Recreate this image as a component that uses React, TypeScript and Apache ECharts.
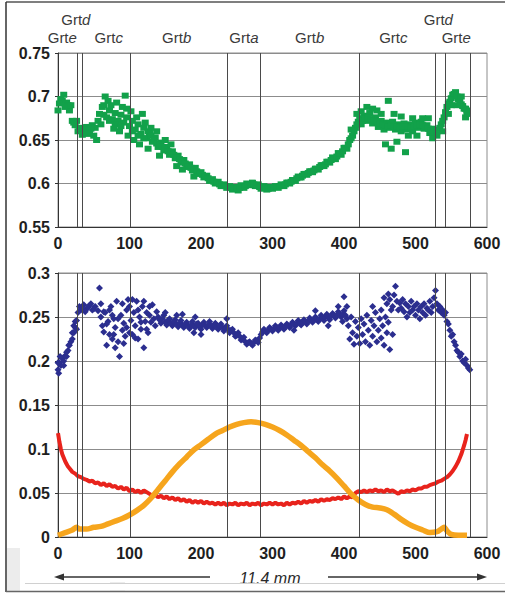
import React, { useEffect, useRef } from "react";
import * as echarts from "echarts";

// Zone boundaries (distance units on x axis)
const zoneBounds = [26.5, 34, 100.5, 237, 283, 421, 528, 541, 576];

// Zone labels: base text, italic suffix, x position (data), row
const zoneLabels: { base: string; it: string; x: number; row: number }[] = [
  { base: "Grt", it: "d", x: 25, row: 0 },
  { base: "Grt", it: "e", x: 6, row: 1 },
  { base: "Grt", it: "c", x: 71, row: 1 },
  { base: "Grt", it: "b", x: 166, row: 1 },
  { base: "Grt", it: "a", x: 260, row: 1 },
  { base: "Grt", it: "b", x: 352, row: 1 },
  { base: "Grt", it: "c", x: 469, row: 1 },
  { base: "Grt", it: "d", x: 532, row: 0 },
  { base: "Grt", it: "e", x: 557, row: 1 },
];

const xTicks = { min: 0, max: 600, step: 100 };
const topTicks = { min: 0.55, max: 0.75, step: 0.05 };
const bottomTicks = { min: 0, max: 0.3, step: 0.05 };

// Top panel (green squares)
const greenBand: [number, number][] = [
  [0, 0.684], [4, 0.697], [8, 0.702], [12, 0.693], [16, 0.684], [20, 0.672], [24, 0.667], [28, 0.66],
  [32, 0.664], [36, 0.659], [40, 0.665], [44, 0.661], [48, 0.667], [52, 0.664], [56, 0.672], [60, 0.668],
  [64, 0.679], [68, 0.676], [72, 0.684], [76, 0.674], [80, 0.681], [84, 0.672], [88, 0.679], [92, 0.67],
  [96, 0.676], [100, 0.666], [104, 0.672], [108, 0.662], [112, 0.668], [116, 0.657], [120, 0.664], [124, 0.652],
  [128, 0.658], [132, 0.648], [136, 0.653], [140, 0.642], [144, 0.647], [148, 0.638], [152, 0.642], [156, 0.633],
  [160, 0.637], [164, 0.629], [168, 0.632], [172, 0.624], [176, 0.627], [180, 0.619], [184, 0.622], [188, 0.615],
  [192, 0.618], [196, 0.611], [200, 0.613], [204, 0.607], [208, 0.609], [212, 0.603], [216, 0.605], [220, 0.6],
  [224, 0.602], [228, 0.597], [232, 0.599], [236, 0.595], [240, 0.597], [244, 0.593], [248, 0.596], [252, 0.592],
  [256, 0.598], [260, 0.595], [264, 0.6], [268, 0.598], [272, 0.601], [276, 0.597], [280, 0.599], [284, 0.594],
  [288, 0.597], [292, 0.593], [296, 0.596], [300, 0.594], [304, 0.597], [308, 0.595], [312, 0.599], [316, 0.597],
  [320, 0.601], [324, 0.6], [328, 0.604], [332, 0.603], [336, 0.608], [340, 0.607], [344, 0.611], [348, 0.61],
  [352, 0.614], [356, 0.613], [360, 0.617], [364, 0.616], [368, 0.621], [372, 0.62], [376, 0.625], [380, 0.624],
  [384, 0.63], [388, 0.628], [392, 0.635], [396, 0.633], [400, 0.641], [404, 0.64], [408, 0.65], [412, 0.655],
  [416, 0.664], [420, 0.671], [424, 0.668], [428, 0.678], [432, 0.672], [436, 0.681], [440, 0.669], [444, 0.676],
  [448, 0.665], [452, 0.672], [456, 0.662], [460, 0.67], [464, 0.664], [468, 0.671], [472, 0.662], [476, 0.668],
  [480, 0.66], [484, 0.669], [488, 0.662], [492, 0.668], [496, 0.66], [500, 0.67], [504, 0.664], [508, 0.671],
  [512, 0.663], [516, 0.667], [520, 0.658], [524, 0.663], [528, 0.657], [532, 0.662], [536, 0.668], [540, 0.676],
  [544, 0.688], [548, 0.694], [552, 0.702], [556, 0.705], [560, 0.697], [564, 0.691], [568, 0.686], [572, 0.684],
];
const greenBand2: [number, number][] = [
  [6, 0.695], [14, 0.69], [22, 0.67], [30, 0.662], [38, 0.662], [46, 0.663], [64, 0.69], [72, 0.672],
  [80, 0.668], [88, 0.666], [96, 0.686], [104, 0.66], [112, 0.655], [120, 0.652], [126, 0.66],
  [130, 0.655], [134, 0.65], [138, 0.646], [142, 0.645], [146, 0.642], [150, 0.64], [154, 0.637], [158, 0.635],
  [162, 0.633], [166, 0.63], [170, 0.628], [174, 0.626], [178, 0.623], [182, 0.62], [186, 0.618], [190, 0.616],
  [194, 0.614], [198, 0.612], [202, 0.61], [206, 0.608], [210, 0.606], [214, 0.604], [218, 0.602], [222, 0.601],
  [226, 0.599], [230, 0.598], [234, 0.597], [238, 0.596], [242, 0.595], [246, 0.594], [250, 0.594], [254, 0.595],
  [258, 0.596], [262, 0.597], [266, 0.599], [270, 0.599], [274, 0.599], [278, 0.598], [282, 0.596], [286, 0.595],
  [290, 0.595], [294, 0.594], [298, 0.595], [302, 0.596], [306, 0.596], [310, 0.597], [314, 0.598], [318, 0.599],
  [322, 0.601], [326, 0.602], [330, 0.604], [334, 0.606], [338, 0.607], [342, 0.609], [346, 0.611], [350, 0.612],
  [354, 0.614], [358, 0.615], [362, 0.617], [366, 0.619], [370, 0.621], [374, 0.622], [378, 0.625], [382, 0.627],
  [386, 0.629], [390, 0.631], [394, 0.634], [398, 0.637], [402, 0.641], [406, 0.645], [410, 0.652], [414, 0.66],
  [418, 0.668], [422, 0.675], [426, 0.672], [430, 0.675], [434, 0.676], [438, 0.674], [442, 0.672], [446, 0.671],
  [450, 0.669], [454, 0.668], [458, 0.667], [462, 0.666], [466, 0.667], [470, 0.666], [474, 0.665], [478, 0.664],
  [482, 0.665], [486, 0.666], [490, 0.665], [494, 0.664], [498, 0.665], [502, 0.667], [506, 0.668], [510, 0.667],
  [514, 0.666], [518, 0.663], [522, 0.661], [526, 0.66], [530, 0.66], [534, 0.664], [538, 0.672], [542, 0.682],
  [546, 0.692], [550, 0.698], [554, 0.703], [558, 0.7], [562, 0.694], [566, 0.689], [570, 0.686],
];
const greenScatter: [number, number][] = [
  [2, 0.692], [10, 0.688], [18, 0.69], [26, 0.672], [34, 0.656], [42, 0.657], [50, 0.655], [54, 0.65],
  [58, 0.68], [62, 0.688], [66, 0.7], [70, 0.695], [74, 0.69], [78, 0.663], [82, 0.693], [86, 0.66],
  [90, 0.688], [94, 0.701], [98, 0.655], [102, 0.683], [106, 0.65], [110, 0.676], [114, 0.645], [118, 0.68],
  [122, 0.67], [126, 0.64], [130, 0.664], [138, 0.66], [142, 0.632], [150, 0.65], [158, 0.645], [166, 0.62],
  [174, 0.616], [190, 0.608], [410, 0.662], [418, 0.68], [424, 0.683], [432, 0.688], [440, 0.686], [446, 0.684],
  [452, 0.68], [458, 0.645], [462, 0.695], [466, 0.64], [470, 0.68], [474, 0.648], [480, 0.677], [486, 0.636],
  [490, 0.655], [496, 0.675], [502, 0.655], [510, 0.675], [518, 0.675], [524, 0.652], [530, 0.655], [538, 0.66],
  [546, 0.68], [550, 0.69], [558, 0.69], [564, 0.7], [570, 0.676], [572, 0.68],
];

// Bottom panel (blue diamonds)
const bluePoints: [number, number][] = [
  [0, 0.19], [2, 0.198], [4, 0.195], [6, 0.203], [8, 0.2], [10, 0.206], [12, 0.205], [14, 0.212],
  [16, 0.218], [18, 0.222], [20, 0.232], [22, 0.24], [24, 0.238], [26, 0.246], [28, 0.255], [30, 0.262],
  [32, 0.258], [36, 0.264], [40, 0.259], [44, 0.263], [48, 0.258], [52, 0.262], [56, 0.257], [60, 0.25],
  [0, 0.198], [1, 0.186], [3, 0.205], [8, 0.195], [12, 0.21], [15, 0.218], [20, 0.225], [22, 0.232],
  [24, 0.245], [26, 0.236], [34, 0.26], [38, 0.256], [42, 0.261], [46, 0.265], [50, 0.259],
  [62, 0.24], [64, 0.233], [66, 0.255], [68, 0.218], [70, 0.245], [72, 0.23], [74, 0.262], [76, 0.225],
  [78, 0.248], [80, 0.238], [82, 0.268], [84, 0.222], [86, 0.205], [88, 0.252], [90, 0.235], [92, 0.243],
  [94, 0.228], [96, 0.258], [98, 0.27], [100, 0.262], [102, 0.246], [104, 0.23], [106, 0.255], [108, 0.24],
  [110, 0.268], [112, 0.225], [114, 0.25], [116, 0.236], [118, 0.262], [120, 0.215], [122, 0.245], [124, 0.255],
  [126, 0.232], [128, 0.252], [130, 0.244], [132, 0.264], [134, 0.248], [136, 0.24], [138, 0.256],
  [58, 0.283], [68, 0.242], [72, 0.258], [78, 0.23], [84, 0.248], [90, 0.265], [96, 0.238], [104, 0.27],
  [108, 0.226], [112, 0.258], [116, 0.244], [120, 0.268], [124, 0.236], [128, 0.262], [60, 0.265], [64, 0.256],
  [76, 0.252], [80, 0.215], [92, 0.22], [100, 0.232],
  [140, 0.25], [144, 0.243], [148, 0.252], [152, 0.241], [156, 0.248], [160, 0.24], [164, 0.247], [168, 0.239],
  [172, 0.246], [176, 0.238], [180, 0.244], [184, 0.237], [188, 0.245], [192, 0.238], [196, 0.243], [200, 0.236],
  [204, 0.244], [208, 0.238], [212, 0.245], [216, 0.237], [220, 0.243], [224, 0.236], [228, 0.242], [232, 0.234],
  [236, 0.24], [240, 0.232], [244, 0.236], [248, 0.228], [252, 0.232], [256, 0.224], [260, 0.227], [264, 0.219],
  [268, 0.222], [272, 0.218], [276, 0.224], [280, 0.221], [284, 0.23], [288, 0.236], [292, 0.232], [296, 0.238],
  [300, 0.234], [304, 0.24], [308, 0.235], [312, 0.241], [316, 0.236], [320, 0.242], [324, 0.238], [328, 0.244],
  [332, 0.24], [336, 0.246], [340, 0.241], [344, 0.247], [348, 0.242], [352, 0.249], [356, 0.244], [360, 0.25],
  [364, 0.245], [368, 0.252], [372, 0.246], [376, 0.253], [380, 0.247], [384, 0.254], [388, 0.249], [392, 0.256],
  [396, 0.25], [400, 0.257], [404, 0.248],
  [142, 0.247], [146, 0.248], [150, 0.244], [154, 0.246], [158, 0.243], [162, 0.245], [166, 0.242], [170, 0.243],
  [174, 0.241], [178, 0.242], [182, 0.24], [186, 0.241], [190, 0.24], [194, 0.242], [198, 0.239], [202, 0.241],
  [206, 0.24], [210, 0.241], [214, 0.24], [218, 0.241], [222, 0.239], [226, 0.24], [230, 0.238], [234, 0.237],
  [238, 0.236], [242, 0.235], [246, 0.232], [250, 0.229], [254, 0.228], [258, 0.225], [262, 0.222], [266, 0.221],
  [270, 0.22], [274, 0.221], [278, 0.223], [282, 0.226], [286, 0.233], [290, 0.234], [294, 0.235], [298, 0.236],
  [302, 0.237], [306, 0.238], [310, 0.238], [314, 0.239], [318, 0.239], [322, 0.24], [326, 0.241], [330, 0.242],
  [334, 0.243], [338, 0.243], [342, 0.244], [346, 0.245], [350, 0.245], [354, 0.246], [358, 0.247], [362, 0.248],
  [366, 0.248], [370, 0.249], [374, 0.25], [378, 0.25], [382, 0.251], [386, 0.252], [390, 0.252], [394, 0.253],
  [398, 0.253], [402, 0.252],
  [150, 0.255], [166, 0.252], [200, 0.23], [236, 0.248], [190, 0.232], [174, 0.253], [192, 0.25],
  [330, 0.235], [360, 0.257], [378, 0.24], [392, 0.262], [398, 0.245], [400, 0.273], [404, 0.262],
  [406, 0.24], [408, 0.225], [410, 0.25], [412, 0.232], [414, 0.219], [416, 0.245], [418, 0.228], [420, 0.238],
  [422, 0.22], [424, 0.248], [426, 0.23], [428, 0.242], [430, 0.222], [432, 0.252], [434, 0.235], [436, 0.218],
  [438, 0.246], [440, 0.228], [442, 0.24], [444, 0.255], [446, 0.222], [448, 0.235], [450, 0.248], [452, 0.226],
  [454, 0.24], [456, 0.218], [458, 0.25], [460, 0.232], [462, 0.244], [464, 0.213], [466, 0.258], [468, 0.23],
  [460, 0.265], [464, 0.27], [468, 0.262], [470, 0.275], [472, 0.285], [474, 0.268], [476, 0.258], [478, 0.266],
  [480, 0.26], [482, 0.27], [484, 0.256], [486, 0.265], [488, 0.25], [490, 0.262], [492, 0.255], [494, 0.268],
  [496, 0.258], [498, 0.262], [500, 0.252], [502, 0.265], [504, 0.258], [506, 0.248], [508, 0.262], [510, 0.255],
  [512, 0.265], [514, 0.252], [516, 0.26], [518, 0.258], [520, 0.268], [522, 0.255], [524, 0.262], [526, 0.272],
  [528, 0.28], [530, 0.265], [532, 0.258], [534, 0.262], [536, 0.255], [538, 0.258], [540, 0.252], [542, 0.255],
  [544, 0.245], [546, 0.242], [548, 0.235], [550, 0.228], [552, 0.23], [554, 0.222], [556, 0.218], [558, 0.212],
  [560, 0.21], [562, 0.205], [564, 0.208], [566, 0.2], [568, 0.198], [570, 0.202], [572, 0.195], [574, 0.192],
  [576, 0.19], [452, 0.258], [456, 0.272], [462, 0.276], [440, 0.262],
];

// Bottom panel (red line)
const redPoints: [number, number][] = [
  [0, 0.118], [2, 0.108], [4, 0.1], [6, 0.094], [8, 0.09], [10, 0.086], [12, 0.083], [14, 0.08],
  [16, 0.078], [20, 0.074], [24, 0.072], [28, 0.069], [32, 0.068], [36, 0.066], [40, 0.065], [44, 0.063],
  [48, 0.064], [52, 0.061], [56, 0.062], [60, 0.059], [64, 0.061], [68, 0.058], [72, 0.06], [76, 0.057],
  [80, 0.058], [84, 0.055], [88, 0.057], [92, 0.054], [96, 0.056], [100, 0.052], [104, 0.054], [108, 0.051],
  [112, 0.053], [116, 0.05], [120, 0.053], [124, 0.051], [128, 0.049], [132, 0.047], [136, 0.048], [140, 0.045],
  [144, 0.047], [148, 0.044], [152, 0.046], [156, 0.043], [160, 0.045], [164, 0.042], [168, 0.044], [172, 0.041],
  [176, 0.043], [180, 0.04], [184, 0.042], [188, 0.039], [192, 0.041], [196, 0.039], [200, 0.041], [204, 0.038],
  [208, 0.04], [212, 0.038], [216, 0.039], [220, 0.037], [224, 0.039], [228, 0.037], [232, 0.039], [236, 0.036],
  [240, 0.038], [244, 0.037], [248, 0.039], [252, 0.036], [256, 0.038], [260, 0.037], [264, 0.039], [268, 0.036],
  [272, 0.038], [276, 0.037], [280, 0.039], [284, 0.036], [288, 0.038], [292, 0.037], [296, 0.039], [300, 0.037],
  [304, 0.039], [308, 0.037], [312, 0.038], [316, 0.036], [320, 0.039], [324, 0.037], [328, 0.039], [332, 0.038],
  [336, 0.04], [340, 0.038], [344, 0.041], [348, 0.039], [352, 0.041], [356, 0.04], [360, 0.042], [364, 0.04],
  [368, 0.043], [372, 0.041], [376, 0.043], [380, 0.042], [384, 0.044], [388, 0.043], [392, 0.045], [396, 0.043],
  [400, 0.046], [404, 0.044], [408, 0.046], [412, 0.045], [416, 0.05], [420, 0.052], [424, 0.051], [428, 0.053],
  [432, 0.051], [436, 0.053], [440, 0.052], [444, 0.054], [448, 0.052], [452, 0.053], [456, 0.051], [460, 0.054],
  [464, 0.052], [468, 0.053], [472, 0.051], [476, 0.049], [480, 0.052], [484, 0.051], [488, 0.053], [492, 0.052],
  [496, 0.054], [500, 0.053], [504, 0.055], [508, 0.055], [512, 0.057], [516, 0.057], [520, 0.059], [524, 0.06],
  [528, 0.061], [532, 0.063], [536, 0.064], [540, 0.066], [544, 0.068], [548, 0.071], [552, 0.075], [556, 0.08],
  [560, 0.086], [564, 0.094], [568, 0.104], [570, 0.11], [572, 0.117],
];

// Bottom panel (orange line)
const orangePoints: [number, number][] = [
  [0, 0.002], [10, 0.005], [20, 0.008], [26, 0.011], [30, 0.009], [40, 0.009], [50, 0.011], [60, 0.012],
  [70, 0.015], [80, 0.018], [90, 0.021], [100, 0.025], [110, 0.03], [120, 0.036], [130, 0.044], [140, 0.054],
  [150, 0.064], [160, 0.074], [170, 0.083], [180, 0.091], [190, 0.099], [200, 0.105], [210, 0.111], [220, 0.117],
  [230, 0.121], [240, 0.125], [250, 0.128], [260, 0.13], [270, 0.131], [280, 0.13], [290, 0.128], [300, 0.125],
  [310, 0.121], [320, 0.116], [330, 0.11], [340, 0.104], [350, 0.097], [360, 0.09], [370, 0.082], [380, 0.075],
  [390, 0.067], [400, 0.058], [410, 0.049], [420, 0.042], [430, 0.037], [440, 0.034], [450, 0.033], [460, 0.031],
  [470, 0.026], [480, 0.02], [490, 0.015], [500, 0.011], [510, 0.008], [520, 0.005], [530, 0.006], [536, 0.009],
  [540, 0.011], [544, 0.007], [550, 0.003], [560, 0.002], [572, 0.002],
];

const FONT = "'Liberation Sans', Arial, sans-serif";

export default function App() {
  const ref = useRef<HTMLDivElement>(null);
  useEffect(() => {
    if (!ref.current) return;
    const chart = echarts.init(ref.current, undefined, { renderer: "svg" });

    const zoneMark = {
      silent: true,
      symbol: ["none", "none"],
      label: { show: false },
      lineStyle: { color: "#4a4a4a", width: 1, type: "solid" },
      data: zoneBounds.map((v) => ({ xAxis: v })),
    };

    const axisLabel = { fontSize: 16, color: "#1e1e1e", fontFamily: FONT, fontWeight: "bold" };

    const makeX = (gi: number) => ({
      type: "value",
      gridIndex: gi,
      min: xTicks.min,
      max: xTicks.max,
      interval: xTicks.step,
      axisLine: { show: true, lineStyle: { color: "#333", width: 1 } },
      axisTick: { show: false },
      splitLine: { show: false },
      axisLabel: { ...axisLabel, margin: 8 },
    });
    const makeY = (gi: number, t: { min: number; max: number; step: number }) => ({
      type: "value",
      gridIndex: gi,
      min: t.min,
      max: t.max,
      interval: t.step,
      axisLine: { show: true, lineStyle: { color: "#333", width: 1 } },
      axisTick: { show: true, length: 3, lineStyle: { color: "#333" } },
      splitLine: { show: true, lineStyle: { color: "#8c8c8c", width: 1 } },
      axisLabel: { ...axisLabel, margin: 8 },
    });

    chart.setOption({
      animation: false,
      backgroundColor: "#ffffff",
      grid: [
        { left: 58, top: 53, width: 429, height: 174, show: true, borderColor: "#8c8c8c", borderWidth: 1, backgroundColor: "#fff" },
        { left: 58, top: 273, width: 429, height: 264, show: true, borderColor: "#8c8c8c", borderWidth: 1, backgroundColor: "#fff" },
      ],
      xAxis: [makeX(0), makeX(1)],
      yAxis: [makeY(0, topTicks), makeY(1, bottomTicks)],
      series: [
        {
          type: "scatter",
          xAxisIndex: 0,
          yAxisIndex: 0,
          symbol: "rect",
          symbolSize: [7, 6],
          itemStyle: { color: "#12a14a", opacity: 1 },
          data: [...greenBand, ...greenBand2, ...greenScatter],
          markLine: zoneMark,
        },
        {
          type: "scatter",
          xAxisIndex: 1,
          yAxisIndex: 1,
          symbol: "diamond",
          symbolSize: 7,
          itemStyle: { color: "#2b2e8f", opacity: 1 },
          data: bluePoints,
          markLine: zoneMark,
        },
        {
          type: "line",
          xAxisIndex: 1,
          yAxisIndex: 1,
          showSymbol: false,
          lineStyle: { color: "#e8231c", width: 4 },
          data: redPoints,
        },
        {
          type: "line",
          xAxisIndex: 1,
          yAxisIndex: 1,
          showSymbol: false,
          smooth: 0.3,
          lineStyle: { color: "#f6a51d", width: 5.5 },
          data: orangePoints,
        },
      ],
    });

    const labelGraphics = zoneLabels.map((l) => {
      const px = chart.convertToPixel({ xAxisIndex: 0 }, l.x) as number;
      return {
        type: "text",
        x: px,
        y: l.row === 0 ? 19 : 37,
        style: {
          text: l.base + "{i|" + l.it + "}",
          fontSize: 15,
          fontFamily: FONT,
          fill: "#3a3a3a",
          align: "center",
          verticalAlign: "middle",
          rich: { i: { fontStyle: "italic", fontSize: 15, fontFamily: FONT, fill: "#3a3a3a" } },
        },
      };
    });

    const ay = 577;
    chart.setOption({
      graphic: [
        ...labelGraphics,
        { type: "rect", shape: { x: 7, y: 548, width: 13, height: 43 }, style: { fill: "#ececec" }, z: 0 },
        { type: "rect", shape: { x: 110, y: 582, width: 15, height: 9 }, style: { fill: "#ececec" }, z: 0 },
        { type: "line", shape: { x1: 62, y1: ay, x2: 210, y2: ay }, style: { stroke: "#333", lineWidth: 1.5 } },
        { type: "line", shape: { x1: 328, y1: ay, x2: 478, y2: ay }, style: { stroke: "#333", lineWidth: 1.5 } },
        { type: "polygon", shape: { points: [[54, ay], [64, ay - 3.5], [64, ay + 3.5]] }, style: { fill: "#333" } },
        { type: "polygon", shape: { points: [[487, ay], [477, ay - 3.5], [477, ay + 3.5]] }, style: { fill: "#333" } },
        {
          type: "text",
          x: 270,
          y: 578,
          style: { text: "11.4 mm", fontSize: 16, fontStyle: "italic", fontFamily: FONT, fill: "#2a2a2a", align: "center", verticalAlign: "middle" },
        },
        { type: "rect", shape: { x: 25, y: 583.5, width: 480, height: 7 }, style: { fill: "#ffffff" }, z: 50 },
        { type: "line", shape: { x1: 25, y1: 583.5, x2: 505, y2: 583.5 }, style: { stroke: "#d0d0d0", lineWidth: 1 }, z: 51 },
        { type: "line", shape: { x1: 6, y1: 2, x2: 505, y2: 2 }, style: { stroke: "#555", lineWidth: 1.5 }, z: 52 },
        { type: "line", shape: { x1: 6, y1: 2, x2: 6, y2: 592 }, style: { stroke: "#333", lineWidth: 1.5 }, z: 52 },
        { type: "line", shape: { x1: 6, y1: 591.5, x2: 505, y2: 591.5 }, style: { stroke: "#666", lineWidth: 1.5 }, z: 52 },
      ],
    });

    return () => chart.dispose();
  }, []);
  return <div ref={ref} style={{ position: "fixed", left: 0, top: 0, width: 505, height: 593 }} />;
}
